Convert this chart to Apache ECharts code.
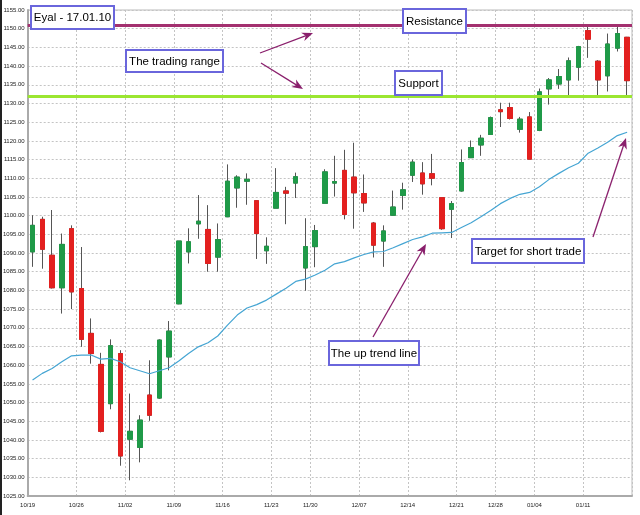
<!DOCTYPE html>
<html>
<head>
<meta charset="utf-8">
<script src="https://cdn.jsdelivr.net/npm/echarts@6/dist/echarts.min.js"></script>
<style>
html,body{margin:0;padding:0;background:#fff;}
#c{width:640px;height:515px;}
</style>
</head>
<body>
<div id="c"></div>
<script>
const dates = ['10/19','10/20','10/21','10/22','10/23','10/26','10/27','10/28','10/29','10/30',
'11/02','11/03','11/04','11/05','11/06','11/09','11/10','11/11','11/12','11/13',
'11/16','11/17','11/18','11/19','11/20','11/23','11/24','11/25','11/27',
'11/30','12/01','12/02','12/03','12/04','12/07','12/08','12/09','12/10','12/11',
'12/14','12/15','12/16','12/17','12/18','12/21','12/22','12/23','12/24',
'12/28','12/29','12/30','12/31','01/04','01/05','01/06','01/07','01/08',
'01/11','01/12','01/13','01/14','01/15'];
const tickLabels = ['10/19','10/26','11/02','11/09','11/16','11/23','11/30','12/07','12/14','12/21','12/28','01/04','01/11'];

const openV  = [1090.3,1099.0,1089.4,1080.7,1096.5,1080.5,1068.5,1060.2,1049.7,1063.1,
1040.2,1038.0,1052.0,1051.2,1062.2,1076.4,1090.3,1097.8,1096.3,1088.9,
1099.7,1107.4,1109.2,1104.0,1090.6,1102.0,1106.6,1108.7,1086.0,
1091.7,1103.3,1108.7,1112.1,1110.3,1105.9,1098.0,1093.2,1100.1,1105.4,
1110.8,1111.4,1111.2,1104.8,1101.7,1106.6,1115.5,1118.9,1121.7,
1128.3,1128.9,1123.1,1126.4,1122.8,1133.9,1135.2,1136.3,1139.7,
1149.5,1141.3,1137.4,1144.8,1147.7];
const highV  = [1100.1,1099.7,1101.5,1095.2,1097.4,1091.6,1072.5,1063.3,1066.9,1064.0,
1052.4,1046.6,1061.3,1066.9,1071.8,1093.2,1096.6,1105.5,1102.8,1097.9,
1113.7,1110.8,1111.3,1104.0,1094.2,1112.7,1107.7,1111.5,1099.3,
1097.5,1112.4,1116.0,1117.6,1119.5,1111.0,1098.3,1097.4,1106.7,1108.8,
1115.0,1114.3,1116.5,1104.8,1103.9,1117.7,1120.1,1121.6,1126.5,
1130.2,1130.2,1126.4,1127.7,1134.0,1136.8,1139.2,1142.3,1145.4,
1150.5,1141.6,1148.7,1150.5,1147.8];
const lowV   = [1086.3,1085.8,1080.5,1073.8,1075.0,1064.9,1060.4,1042.0,1048.2,1033.1,
1029.2,1034.0,1045.1,1051.0,1058.6,1076.3,1087.2,1093.8,1085.0,1085.0,
1099.6,1102.1,1102.9,1088.4,1087.1,1102.0,1097.7,1104.7,1079.9,
1086.2,1103.3,1105.1,1099.0,1096.5,1101.0,1088.8,1086.3,1100.0,1101.6,
1109.0,1105.6,1108.1,1096.2,1094.0,1106.4,1115.5,1116.0,1121.7,
1123.7,1125.7,1122.2,1115.1,1122.6,1129.7,1133.9,1131.6,1136.1,
1142.2,1131.8,1133.2,1143.9,1131.8];
const closeV = [1097.4,1091.0,1080.7,1092.3,1079.6,1066.9,1063.1,1042.3,1065.2,1035.7,
1042.3,1045.3,1046.6,1066.7,1069.1,1093.2,1093.0,1098.5,1087.2,1093.6,
1109.2,1110.3,1109.7,1095.2,1091.8,1106.2,1106.0,1110.4,1091.7,
1096.0,1111.7,1109.1,1100.3,1106.1,1103.4,1092.1,1095.9,1102.3,1106.9,
1114.3,1108.5,1110.0,1096.5,1103.2,1114.2,1118.2,1120.7,1126.2,
1127.8,1126.0,1125.8,1115.1,1133.1,1136.3,1137.2,1141.4,1145.2,
1147.2,1136.3,1145.9,1148.7,1136.1];
const maV    = [1056.0,1057.8,1059.1,1060.9,1062.5,1062.7,1062.7,1061.6,1061.8,1060.9,
1059.3,1058.5,1057.7,1058.5,1059.3,1061.1,1063.1,1064.9,1066.0,1067.8,
1070.7,1073.4,1075.3,1076.2,1077.4,1079.0,1080.6,1082.4,1083.0,
1084.1,1085.4,1087.1,1087.7,1088.7,1089.6,1090.3,1090.4,1091.4,1092.5,
1093.6,1094.3,1095.3,1095.4,1095.5,1096.8,1098.1,1099.7,1101.4,
1103.2,1104.6,1105.7,1106.2,1107.7,1109.7,1111.3,1112.8,1114.0,
1116.7,1118.1,1119.6,1121.4,1122.3];
const resistanceLevel = 1151;
const supportLevel = 1132;

const notes = [
  {text:'Eyal - 17.01.10', x:31, y:6, w:83, h:23},
  {text:'The trading range', x:126, y:50, w:97, h:22},
  {text:'Resistance', x:403, y:9, w:63, h:24},
  {text:'Support', x:395, y:71, w:47, h:24},
  {text:'The up trend line', x:329, y:341, w:90, h:24},
  {text:'Target for short trade', x:472, y:239, w:112, h:24}
];
const arrows = [
  [260,53,313,33],
  [261,63,303,89],
  [373,337,426,244],
  [593,237,626,138]
];

const wickData = dates.map((d,i)=>[openV[i],closeV[i],lowV[i],highV[i]]);
const bodyData = dates.map((d,i)=>[openV[i],closeV[i],Math.min(openV[i],closeV[i]),Math.max(openV[i],closeV[i])]);
const isTick = (idx, val) => tickLabels.indexOf(val) >= 0;

const graphics = [];
graphics.push({type:'rect', left:0, top:0, shape:{x:0,y:0,width:2,height:515}, style:{fill:'#222'}, z:100});
const arrowColor = '#8a1f6c';
arrows.forEach(a=>{
  const [x1,y1,x2,y2] = a;
  const dx = x2-x1, dy = y2-y1, len = Math.hypot(dx,dy);
  const ux = dx/len, uy = dy/len, nx = -uy, ny = ux;
  const L = 11, W = 4.5;
  const bx = x2-ux*L, by = y2-uy*L;
  graphics.push({type:'line', shape:{x1:x1,y1:y1,x2:x2-ux*6,y2:y2-uy*6}, style:{stroke:arrowColor,lineWidth:1.3}, z:100});
  graphics.push({type:'polygon', shape:{points:[[x2,y2],[bx+nx*W,by+ny*W],[x2-ux*L*0.7,y2-uy*L*0.7],[bx-nx*W,by-ny*W]]}, style:{fill:arrowColor}, z:100});
});
notes.forEach(n=>{
  graphics.push({type:'rect', shape:{x:n.x,y:n.y,width:n.w,height:n.h}, style:{fill:'#fff',stroke:'#6a66dc',lineWidth:2}, z:101});
  graphics.push({type:'text', x:n.x+n.w/2, y:n.y+n.h/2+0.5, style:{text:n.text, fill:'#000', font:'11.5px "Liberation Sans", Arial, sans-serif', align:'center', verticalAlign:'middle'}, z:102});
});

const chart = echarts.init(document.getElementById('c'), null, {renderer:'canvas'});
chart.setOption({
  animation:false,
  backgroundColor:'#fff',
  grid:{left:27, right:8, top:10, bottom:19, show:true, borderColor:'#bbb', borderWidth:1},
  xAxis:{
    type:'category', data:dates, boundaryGap:true,
    axisLine:{show:true, lineStyle:{color:'#aaa', width:2}},
    axisTick:{show:false},
    axisLabel:{interval:isTick, fontSize:6, color:'#222', margin:6, padding:[0,10,0,0], fontFamily:'Liberation Sans'},
    splitLine:{show:true, interval:isTick, lineStyle:{color:'#c4c4c4', type:[2,2], width:1}}
  },
  yAxis:{
    type:'value', min:1025, max:1155, interval:5, scale:true,
    axisLine:{show:true, lineStyle:{color:'#aaa', width:2}},
    axisTick:{show:false},
    axisLabel:{fontSize:6, color:'#222', margin:3, fontFamily:'Liberation Sans', formatter:v=>v.toFixed(2)},
    splitLine:{show:true, lineStyle:{color:'#c4c4c4', type:[2,2], width:1}}
  },
  series:[
    {type:'candlestick', data:wickData, barWidth:5,
     itemStyle:{color:'#555', color0:'#555', borderColor:'#555', borderColor0:'#555', borderWidth:1},
     markLine:{silent:true, symbol:'none', label:{show:false},
       data:[{yAxis:resistanceLevel, lineStyle:{color:'#a3306f', width:3, type:'solid'}},
             {yAxis:supportLevel, lineStyle:{color:'#9be631', width:3, type:'solid'}}]}
    },
    {type:'candlestick', data:bodyData, barWidth:5,
     itemStyle:{color:'#1f9a48', color0:'#e3201f', borderColor:'#1f9a48', borderColor0:'#e3201f', borderWidth:1}
    },
    {type:'line', data:maV, showSymbol:false, symbol:'none', lineStyle:{color:'#45a5d3', width:1.2}, itemStyle:{color:'#45a5d3'}, z:3}
  ],
  graphic:graphics
});
</script>
</body>
</html>
